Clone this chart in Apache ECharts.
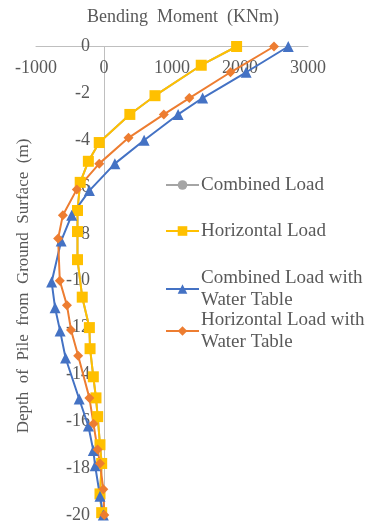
<!DOCTYPE html>
<html>
<head>
<meta charset="utf-8">
<script src="https://cdn.jsdelivr.net/npm/echarts@6/dist/echarts.min.js"></script>
<style>html,body{margin:0;padding:0;background:#fff;}#c{width:367px;height:524px;}</style>
</head>
<body>
<div id="c"></div>
<script>
var xTicks = [-1000, 0, 1000, 2000, 3000];
var yTicks = [0, -2, -4, -6, -8, -10, -12, -14, -16, -18, -20];

var seriesNames = ['Combined Load', 'Horizontal Load', 'Combined Load with\nWater Table', 'Horizontal Load with\nWater Table'];

var horizDepth = [0, -0.8, -2.1, -2.9, -4.1, -4.9, -5.8, -7.0, -7.9, -9.1, -10.7, -12.0, -12.9, -14.1, -15.0, -15.8, -17.0, -17.8, -19.1, -19.9];
var horizMoment = [1950, 1430, 750, 380, -70, -230, -350, -390, -390, -390, -320, -215, -205, -157, -118, -93, -59, -34, -59, -34];

var combinedDepth = [0, -0.8, -2.1, -2.9, -4.1, -4.9, -5.8, -7.0, -7.9, -9.1, -10.7, -12.0, -12.9, -14.1, -15.0, -15.8, -17.0, -17.8, -19.1, -19.9];
var combinedMoment = [1950, 1430, 750, 380, -70, -230, -350, -390, -390, -390, -320, -215, -205, -157, -118, -93, -59, -34, -59, -34];

var combWtDepth = [0, -1.1, -2.2, -2.9, -4.0, -5.0, -6.15, -7.2, -8.3, -10.05, -11.15, -12.15, -13.3, -15.05, -16.2, -17.25, -17.9, -19.2, -20.0];
var combWtMoment = [2710, 2090, 1450, 1090, 590, 160, -215, -475, -630, -770, -720, -645, -565, -365, -230, -157, -130, -59, -10];

var horizWtDepth = [0, -1.1, -2.2, -2.9, -3.9, -5.0, -6.1, -7.2, -8.2, -10.0, -11.05, -12.1, -13.2, -15.0, -16.1, -17.2, -17.8, -18.9, -20.0];
var horizWtMoment = [2500, 1860, 1255, 880, 360, -70, -400, -605, -675, -650, -545, -485, -380, -215, -155, -95, -59, -10, 5];

function pairs(xs, ys) { return xs.map(function (v, i) { return [v, ys[i]]; }); }

var textColor = '#595959';
var fontFam = '"Liberation Serif", "DejaVu Serif", serif';

function legendFor(name, top, twoLine) {
  return {
    data: [name],
    left: 165,
    top: top,
    orient: 'vertical',
    padding: 0,
    itemWidth: 33,
    itemHeight: 12,
    itemGap: 0,
    textStyle: {
      color: textColor, fontFamily: fontFam, fontSize: 19, lineHeight: 22,
      padding: twoLine ? [22, 0, 0, -3] : [0, 0, 0, -3]
    }
  };
}

var chart = echarts.init(document.getElementById('c'), null, {renderer: 'canvas'});
chart.setOption({
  animation: false,
  backgroundColor: '#ffffff',
  grid: {left: 36, right: 59, top: 46.5, bottom: 6, containLabel: false},
  xAxis: {
    type: 'value', position: 'top', min: xTicks[0], max: xTicks[xTicks.length - 1], interval: 1000,
    axisLine: {show: true, onZero: false, lineStyle: {color: '#BFBFBF', width: 1}},
    axisTick: {show: false},
    splitLine: {show: false},
    axisLabel: {inside: true, margin: 13, color: textColor, fontFamily: fontFam, fontSize: 18,
      formatter: function (v) { return String(v); }}
  },
  yAxis: {
    type: 'value', position: 'left', offset: -68, min: yTicks[yTicks.length - 1], max: yTicks[0], interval: 2,
    axisLine: {show: true, onZero: false, lineStyle: {color: '#BFBFBF', width: 1}},
    axisTick: {show: false},
    splitLine: {show: false},
    axisLabel: {margin: 14, color: textColor, fontFamily: fontFam, fontSize: 18,
      formatter: function (v) { return String(v); }}
  },
  legend: [
    legendFor(seriesNames[0], 174, false),
    legendFor(seriesNames[1], 220, false),
    legendFor(seriesNames[2], 256, true),
    legendFor(seriesNames[3], 298, true)
  ],
  graphic: [
    {type: 'text', x: 183, y: 17, style: {text: 'Bending  Moment  (KNm)', fill: textColor, font: '18px ' + fontFam, align: 'center', verticalAlign: 'middle', textAlign: 'center', textVerticalAlign: 'middle'}},
    {type: 'text', x: 24, y: 286, rotation: Math.PI / 2, style: {text: 'Depth  of  Pile  from  Ground  Surface  (m)', fill: textColor, font: '17px ' + fontFam, align: 'center', verticalAlign: 'middle', textAlign: 'center', textVerticalAlign: 'middle'}}
  ],
  series: [
    {name: seriesNames[0], type: 'line', data: pairs(combinedMoment, combinedDepth), symbol: 'circle', symbolSize: 9,
      itemStyle: {color: '#A5A5A5'}, lineStyle: {color: '#A5A5A5', width: 2}},
    {name: seriesNames[1], type: 'line', data: pairs(horizMoment, horizDepth), symbol: 'rect', symbolSize: 11,
      itemStyle: {color: '#FFC000'}, lineStyle: {color: '#FFC000', width: 2}},
    {name: seriesNames[2], type: 'line', data: pairs(combWtMoment, combWtDepth), symbol: 'triangle', symbolSize: 11,
      itemStyle: {color: '#4472C4'}, lineStyle: {color: '#4472C4', width: 2}},
    {name: seriesNames[3], type: 'line', data: pairs(horizWtMoment, horizWtDepth), symbol: 'diamond', symbolSize: 10,
      itemStyle: {color: '#ED7D31'}, lineStyle: {color: '#ED7D31', width: 2}}
  ]
});
</script>
</body>
</html>
